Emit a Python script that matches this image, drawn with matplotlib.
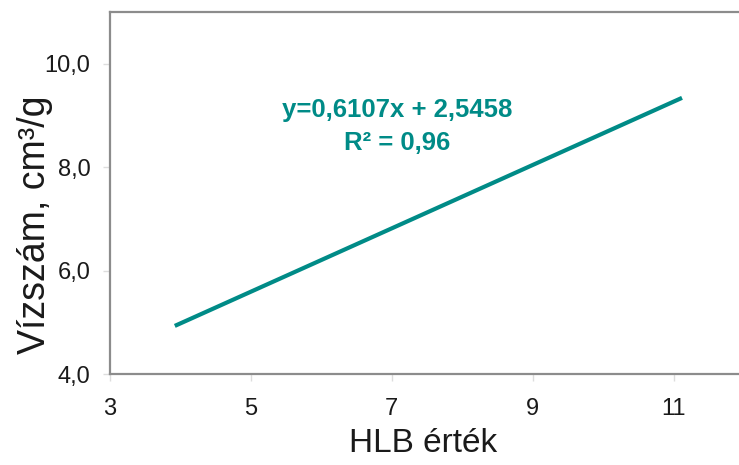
import matplotlib.pyplot as plt

# trendline endpoints
hlb = [3.92, 11.12]
vizszam = [4.93, 9.34]

x_ticks = [3, 5, 7, 9, 11]
y_ticks = [4, 6, 8, 10]
y_tick_labels = ["4,0", "6,0", "8,0", "10,0"]

teal = "#008b87"

plt.rcParams['font.family'] = ['Liberation Sans', 'DejaVu Sans']

fig = plt.figure(figsize=(7.39, 4.65), dpi=100)
ax = fig.add_axes([110/739, 91/465, 634/739, 362/465])

ax.plot(hlb, vizszam, color=teal, lw=3.0, solid_capstyle='butt')

ax.set_xlim(3, 12)
ax.set_ylim(4, 11)
ax.set_xticks(x_ticks)
ax.set_xticklabels([str(v) for v in x_ticks])
ax.set_yticks(y_ticks)
ax.set_yticklabels(y_tick_labels)
ax.tick_params(axis='both', labelsize=17, colors='#dddddd', labelcolor='#1a1a1a',
               length=5, width=1)
ax.tick_params(axis='x', pad=12)
ax.tick_params(axis='y', pad=9)

for side in ['left', 'bottom', 'top']:
    ax.spines[side].set_color('#8c8c8c')
    ax.spines[side].set_linewidth(1.6)
ax.spines['right'].set_visible(False)

fig.text(423/739, 1 - 443/465, "HLB érték", fontsize=24, color='#1a1a1a',
         ha='center', va='center')
fig.text(35/739, 1 - 225/465, "Vízszám, cm³/g", fontsize=27, color='#1a1a1a',
         rotation=90, ha='center', va='center')

fig.text(397/739, 1 - 110/465, "y=0,6107x + 2,5458", color=teal, fontsize=18.5,
         fontweight='bold', ha='center', va='center')
fig.text(397/739, 1 - 143/465, "R² = 0,96", color=teal, fontsize=18.5,
         fontweight='bold', ha='center', va='center')

fig.savefig("out.png", dpi=100)
